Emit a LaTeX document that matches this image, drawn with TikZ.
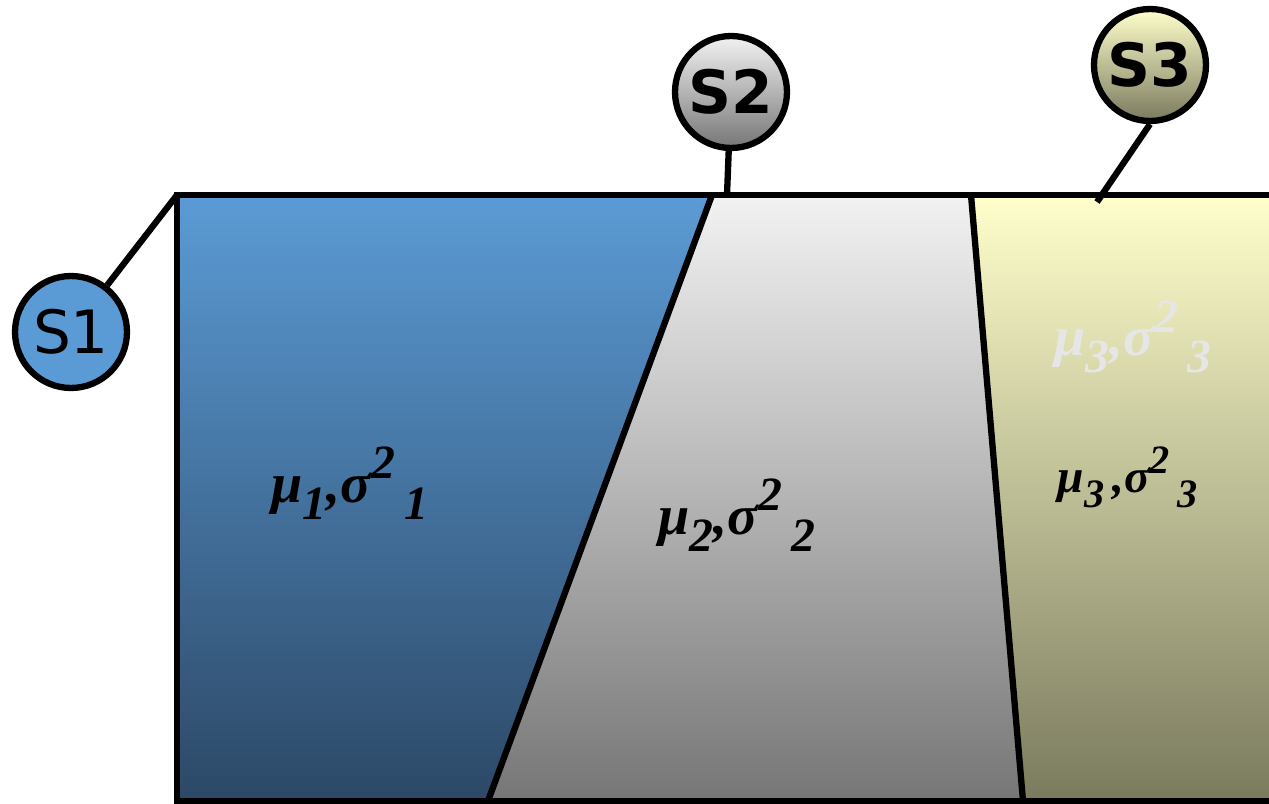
\documentclass[tikz,border=0pt]{standalone}
\usepackage{fontspec}
\setmainfont{Liberation Serif}
\newfontfamily\dejavu{DejaVu Sans}
\definecolor{blueT}{RGB}{91,155,213}
\definecolor{blueB}{RGB}{44,72,102}
\definecolor{grayT}{RGB}{242,242,242}
\definecolor{grayB}{RGB}{118,118,118}
\definecolor{yelT}{RGB}{255,255,204}
\definecolor{yelB}{RGB}{122,122,94}
\definecolor{fadeC}{RGB}{230,230,230}
\newcommand{\lbl}[2]{μ\raisebox{-0.3em}{\scalebox{0.85}{#1}}#2,σ\raisebox{0.42em}{\scalebox{0.85}{2}}\,\raisebox{-0.3em}{\scalebox{0.85}{#1}}}
\tikzset{
  edge/.style={line width=3.6pt, line join=miter},
  sbub/.style={circle, draw, line width=3.6pt, minimum size=2.24cm, inner sep=0pt, font=\dejavu\fontsize{34}{36}\selectfont},
  lab/.style={font=\fontsize{32}{36}\selectfont\bfseries\itshape, inner sep=0pt}
}
\begin{document}
\begin{tikzpicture}[x=0.02cm,y=-0.02cm]
\useasboundingbox (0,0) rectangle (1269,804);
\clip (0,0) rectangle (1269,804);
\coordinate (tl) at (177,195);
\coordinate (bl) at (177,801);
\coordinate (t1) at (712,195);
\coordinate (b1) at (488,801);
\coordinate (t2) at (971,195);
\coordinate (b2) at (1023,801);
\coordinate (tr) at (1290,195);
\coordinate (br) at (1290,801);
\coordinate (c2) at (727,195);
\coordinate (c3) at (1097,202);
\fill[top color=blueT, bottom color=blueB] (tl) -- (t1) -- (b1) -- (bl) -- cycle;
\fill[top color=grayT, bottom color=grayB] (t1) -- (t2) -- (b2) -- (b1) -- cycle;
\fill[top color=yelT, bottom color=yelB] (t2) -- (tr) -- (br) -- (b2) -- cycle;
\draw[edge] (tr) -- (tl) -- (bl) -- (br);
\draw[edge] (t1) -- (b1);
\draw[edge] (t2) -- (b2);
\node[sbub, fill=blueT] (s1) at (71,332) {S1};
\node[sbub, top color=grayT, bottom color=grayB, font=\dejavu\bfseries\fontsize{34}{36}\selectfont] (s2) at (731,92) {S2};
\node[sbub, top color=yelT, bottom color=yelB, font=\dejavu\bfseries\fontsize{34}{36}\selectfont] (s3) at (1150,65) {S3};
\draw[edge] (s1) -- (tl);
\draw[edge] (s2) -- (c2);
\draw[edge] (s3.south) -- (c3);
\node[lab] (l1) at (350,483) {\lbl{1}{}};
\node[lab] (l2) at (737,515) {\lbl{2}{}};
\node[lab, text=fadeC] (l3f) at (1133,337) {\lbl{3}{}};
\node[lab, font=\fontsize{27}{30}\selectfont\bfseries\itshape] (l3) at (1128,477) {\lbl{3}{\,}};
\end{tikzpicture}
\end{document}
